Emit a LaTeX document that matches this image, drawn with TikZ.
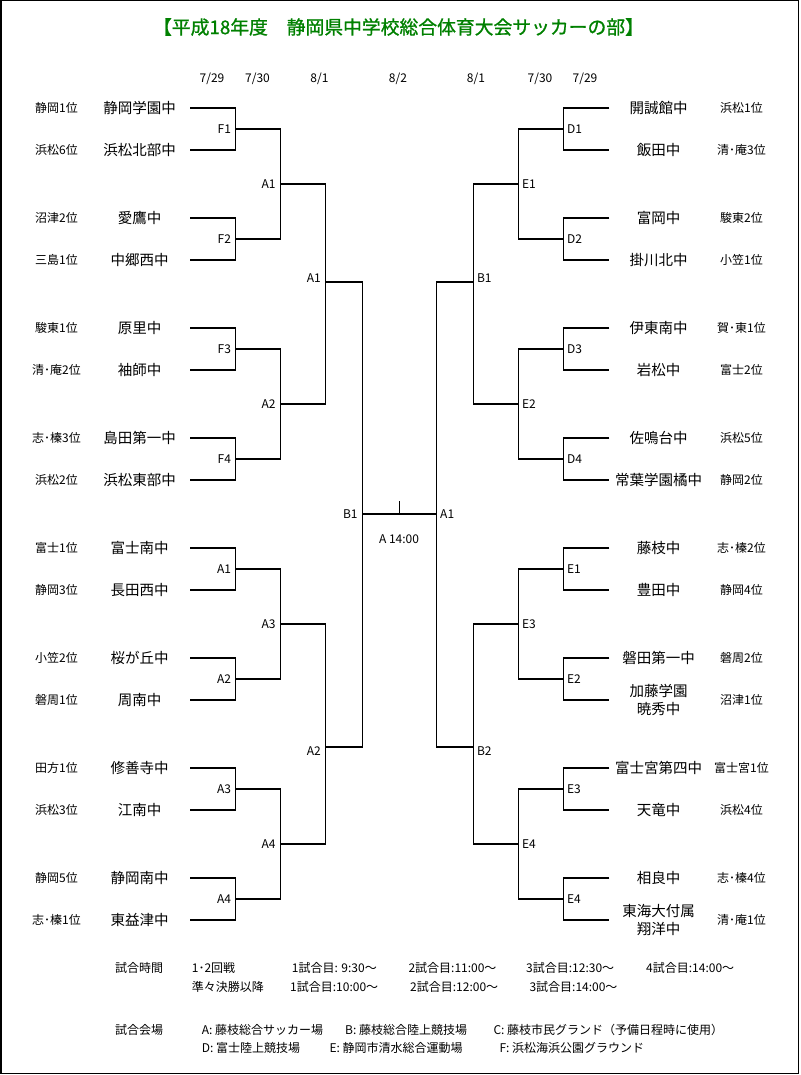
\documentclass[tikz,border=0pt]{standalone}
\usepackage{fontspec}
\setmainfont{Noto Sans CJK JP}
\newfontfamily\titlefont[FakeBold=1]{Noto Sans CJK JP}
\definecolor{titlegreen}{RGB}{0,128,0}
\begin{document}
\begin{tikzpicture}[x=1pt,y=-1pt,
  team/.style={font=\fontsize{14.5}{18.3}\selectfont, align=center, inner sep=0pt},
  rank/.style={font=\fontsize{12}{14}\selectfont, inner sep=0pt},
  lab/.style={font=\fontsize{12}{14}\selectfont, inner sep=0pt},
  llab/.style={lab, anchor=east, xshift=-4.5pt},
  rlab/.style={lab, anchor=west, xshift=3.5pt},
  note/.style={font=\fontsize{12}{14}\selectfont, inner sep=0pt, anchor=west},
  bracket/.style={line width=1.2pt, line join=miter}]
\useasboundingbox (0,0) rectangle (800,1075);
\draw[line width=1.5pt] (0.75,0.75) rectangle (798.5,1073.5);

% title and dates
\node[font=\titlefont\fontsize{18.8}{20}\selectfont, text=titlegreen, inner sep=0pt] (title) at (398.5,27) {【平成18年度　静岡県中学校総合体育大会サッカーの部】};
\node[lab] (dl1) at (212,79) {7/29};
\node[lab] (dl2) at (257.5,79) {7/30};
\node[lab] (dl3) at (319.5,79) {8/1};
\node[lab] (dc) at (398,79) {8/2};
\node[lab] (dr3) at (476,79) {8/1};
\node[lab] (dr2) at (540,79) {7/30};
\node[lab] (dr1) at (585,79) {7/29};

% left teams
\foreach \i/\y/\n/\r in {1/108/静岡学園中/静岡1位, 2/150/浜松北部中/浜松6位,
  3/218/愛鷹中/沼津2位, 4/260/中郷西中/三島1位, 5/328/原里中/駿東1位,
  6/370/袖師中/清･庵2位, 7/438/島田第一中/志･榛3位, 8/480/浜松東部中/浜松2位,
  9/548/富士南中/富士1位, 10/590/長田西中/静岡3位, 11/658/桜が丘中/小笠2位,
  12/700/周南中/磐周1位, 13/768/修善寺中/田方1位, 14/810/江南中/浜松3位,
  15/878/静岡南中/静岡5位, 16/920/東益津中/志･榛1位}{
  \coordinate (lt\i) at (190,\y);
  \node[team] (ln\i) at (139.5,\y) {\n};
  \node[rank] (lr\i) at (56.5,\y) {\r};
}
% right teams
\foreach \i/\y/\n/\r in {1/108/開誠館中/浜松1位, 2/150/飯田中/清･庵3位,
  3/218/富岡中/駿東2位, 4/260/掛川北中/小笠1位, 5/328/伊東南中/賀･東1位,
  6/370/岩松中/富士2位, 7/438/佐鳴台中/浜松5位, 8/480/常葉学園橘中/静岡2位,
  9/548/藤枝中/志･榛2位, 10/590/豊田中/静岡4位, 11/658/磐田第一中/磐周2位,
  12/700/{加藤学園\\暁秀中}/沼津1位, 13/768/富士宮第四中/富士宮1位, 14/810/天竜中/浜松4位,
  15/878/相良中/志･榛4位, 16/920/{東海大付属\\翔洋中}/清･庵1位}{
  \coordinate (rt\i) at (609.3,\y);
  \node[team] (rn\i) at (658.5,\y) {\n};
  \node[rank] (rr\i) at (741.5,\y) {\r};
}

% round 1 junctions
\foreach \j/\y/\l/\m in {1/129/F1/D1, 2/239/F2/D2, 3/349/F3/D3, 4/459/F4/D4,
  5/569/A1/E1, 6/679/A2/E2, 7/789/A3/E3, 8/899/A4/E4}{
  \coordinate (la\j) at (235.7,\y);
  \coordinate (ra\j) at (563.3,\y);
  \node[llab] (lal\j) at (la\j) {\l};
  \node[rlab] (ral\j) at (ra\j) {\m};
  \pgfmathtruncatemacro\a{2*\j-1}
  \pgfmathtruncatemacro\b{2*\j}
  \draw[bracket] (lt\a) -| (la\j) |- (lt\b);
  \draw[bracket] (rt\a) -| (ra\j) |- (rt\b);
}
% round 2 junctions
\foreach \k/\y/\l/\m in {1/184/A1/E1, 2/404/A2/E2, 3/624/A3/E3, 4/844/A4/E4}{
  \coordinate (lb\k) at (280.3,\y);
  \coordinate (rb\k) at (518.3,\y);
  \node[llab] (lbl\k) at (lb\k) {\l};
  \node[rlab] (rbl\k) at (rb\k) {\m};
  \pgfmathtruncatemacro\a{2*\k-1}
  \pgfmathtruncatemacro\b{2*\k}
  \draw[bracket] (la\a) -| (lb\k) |- (la\b);
  \draw[bracket] (ra\a) -| (rb\k) |- (ra\b);
}
% round 3
\coordinate (lc1) at (325.5,282);
\coordinate (lc2) at (325.5,747);
\coordinate (rc1) at (473.3,282);
\coordinate (rc2) at (473.3,747);
\node[llab, yshift=3.5pt] (lcl1) at (lc1) {A1};
\node[llab, yshift=-4.5pt] (lcl2) at (lc2) {A2};
\node[rlab, yshift=3.5pt] (rcl1) at (rc1) {B1};
\node[rlab, yshift=-4.5pt] (rcl2) at (rc2) {B2};
\draw[bracket] (lb1) -| (lc1) |- (lb2);
\draw[bracket] (lb3) -| (lc2) |- (lb4);
\draw[bracket] (rb1) -| (rc1) |- (rb2);
\draw[bracket] (rb3) -| (rc2) |- (rb4);
% semi-finals and final
\coordinate (ld) at (362.3,514);
\coordinate (rd) at (436.5,514);
\node[llab] (ldl) at (ld) {B1};
\node[rlab] (rdl) at (rd) {A1};
\draw[bracket] (lc1) -| (ld) |- (lc2);
\draw[bracket] (rc1) -| (rd) |- (rc2);
\draw[bracket] (ld) -- (rd);
\coordinate (tick) at (399.5,501);
\draw[bracket] (tick) -- (tick |- ld);
\node[lab] (fin) at (399,539) {A 14:00};

% notes
\node[note] (n1) at (115,968.3) {試合時間};
\node[note] (n2) at (191.7,968.3) {1･2回戦};
\node[note] (n3) at (291.7,968.3) {1試合目: 9:30～};
\node[note] (n4) at (408.3,968.3) {2試合目:11:00～};
\node[note] (n5) at (526,968.3) {3試合目:12:30～};
\node[note] (n6) at (646,968.3) {4試合目:14:00～};
\node[note] (n7) at (191.7,987.3) {準々決勝以降};
\node[note] (n8) at (290,987.3) {1試合目:10:00～};
\node[note] (n9) at (410,987.3) {2試合目:12:00～};
\node[note] (n10) at (529.3,987.3) {3試合目:14:00～};
\node[note] (v0) at (115,1030) {試合会場};
\node[note] (v1) at (201.7,1030) {A: 藤枝総合サッカー場};
\node[note] (v2) at (345,1030) {B: 藤枝総合陸上競技場};
\node[note] (v3) at (493.3,1030) {C: 藤枝市民グランド（予備日程時に使用）};
\node[note] (v4) at (201.7,1048.3) {D: 富士陸上競技場};
\node[note] (v5) at (329.3,1048.3) {E: 静岡市清水総合運動場};
\node[note] (v6) at (499.3,1048.3) {F: 浜松海浜公園グラウンド};
\end{tikzpicture}
\end{document}
